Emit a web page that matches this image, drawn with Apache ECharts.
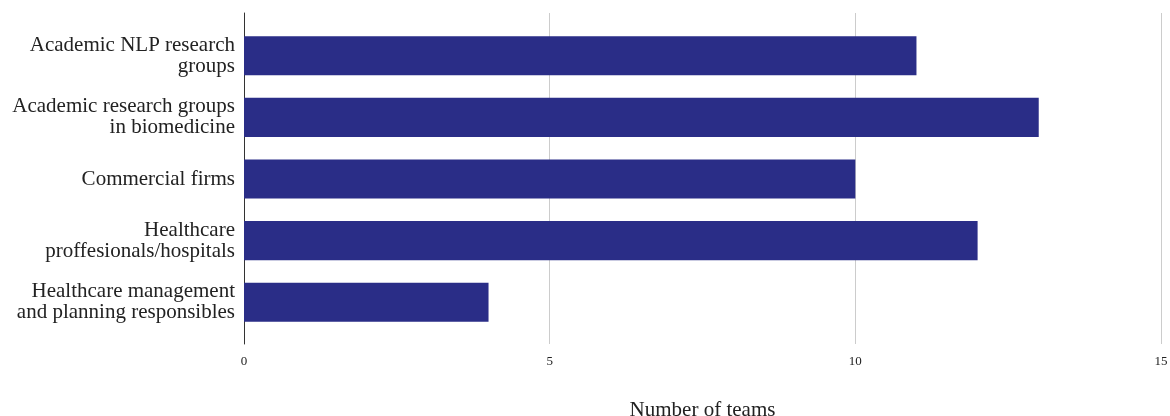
<!DOCTYPE html>
<html>
<head>
<meta charset="utf-8">
<script src="https://cdn.jsdelivr.net/npm/echarts@6/dist/echarts.min.js"></script>
<style>html,body{margin:0;padding:0;background:#fff;}#c{width:1170px;height:416px;}</style>
</head>
<body>
<div id="c"></div>
<script>
const categories = [
  "Academic NLP research\ngroups",
  "Academic research groups\nin biomedicine",
  "Commercial firms",
  "Healthcare\nproffesionals/hospitals",
  "Healthcare management\nand planning responsibles"
];
const values = [11, 13, 10, 12, 4];
const xTicks = [0, 5, 10, 15];
const axisTitle = "Number of teams";

const font = "'Liberation Serif', 'DejaVu Serif', serif";
const xMin = xTicks[0], xMax = xTicks[xTicks.length - 1];
const chart = echarts.init(document.getElementById('c'), null, {renderer: 'canvas'});
chart.setOption({
  animation: false,
  backgroundColor: '#ffffff',
  grid: [
    {left: 244, right: 9, top: 13, bottom: 72, containLabel: false, outerBoundsMode: 'none'},
    {left: 244, right: 9, top: 25, bottom: 83, containLabel: false, outerBoundsMode: 'none'}
  ],
  xAxis: [{
    gridIndex: 0, type: 'value',
    min: xMin, max: xMax, interval: 5,
    name: axisTitle, nameLocation: 'middle', nameGap: 56,
    nameTextStyle: {fontFamily: font, fontSize: 21, color: '#222'},
    axisLine: {show: false}, axisTick: {show: false},
    axisLabel: {fontFamily: font, fontSize: 13, color: '#222', margin: 11},
    splitLine: {show: true, lineStyle: {color: '#cccccc', width: 1}}
  }, {
    gridIndex: 1, type: 'value', min: xMin, max: xMax, interval: 5, show: false
  }],
  yAxis: [{
    gridIndex: 0, type: 'category', data: categories, inverse: true,
    axisLine: {show: true, lineStyle: {color: '#333333', width: 1}},
    axisTick: {show: false}, axisLabel: {show: false}
  }, {
    gridIndex: 1, type: 'category', data: categories, inverse: true,
    axisLine: {show: false}, axisTick: {show: false},
    axisLabel: {fontFamily: font, fontSize: 21, color: '#222', margin: 9, lineHeight: 21, align: 'right'}
  }],
  series: [{
    type: 'bar', xAxisIndex: 1, yAxisIndex: 1, data: values, barCategoryGap: '36.5%',
    itemStyle: {color: '#2a2d87'}
  }]
});
</script>
</body>
</html>
